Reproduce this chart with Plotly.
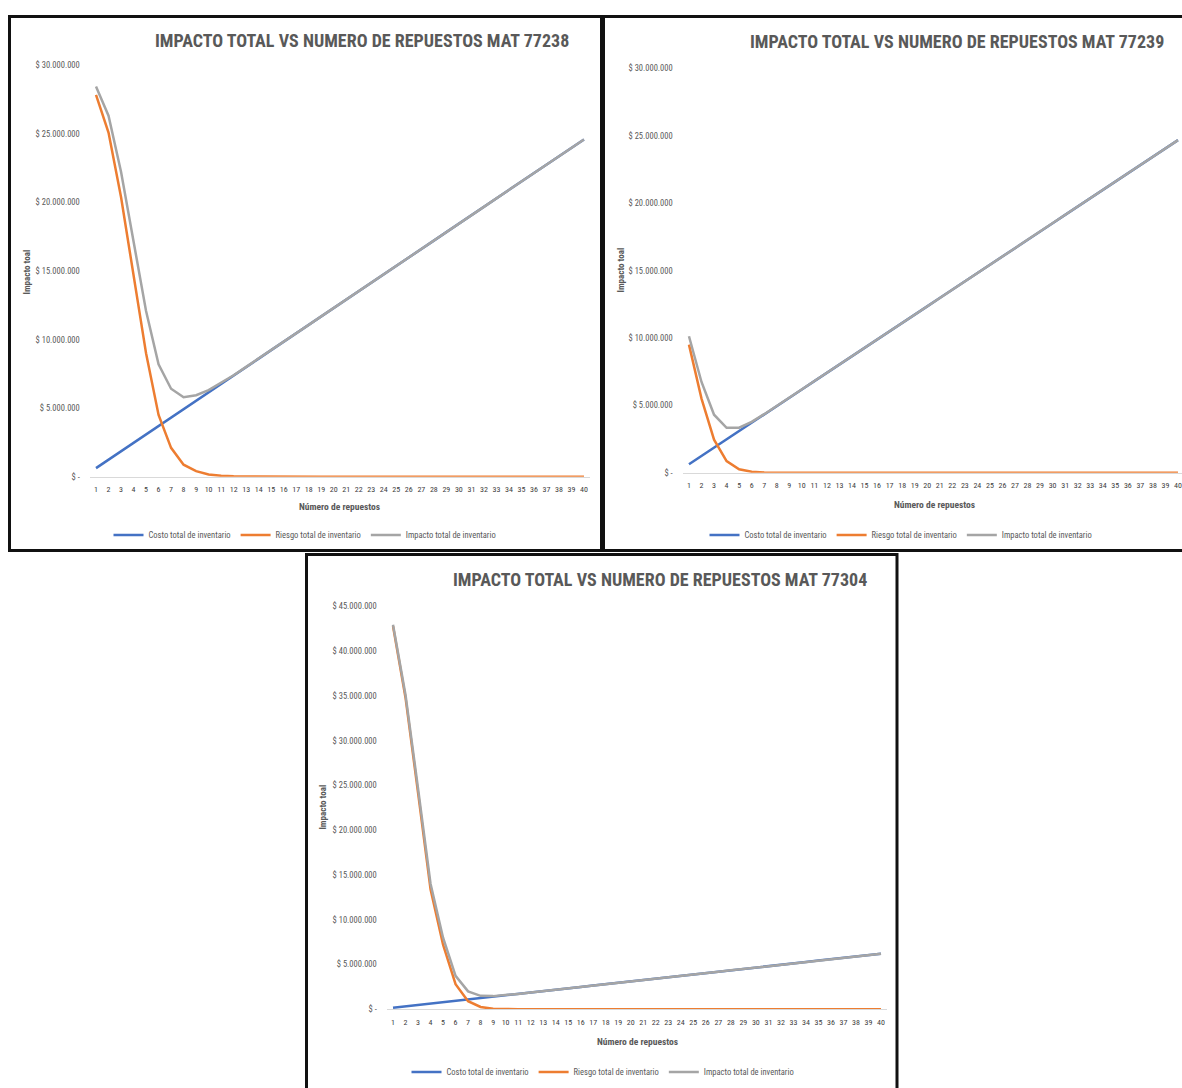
import plotly.graph_objects as go

W, H = 1182, 1088

# ---------------- DATA (values in millions of pesos) ----------------
repuestos = list(range(1, 41))
tick_labels_x = [str(i) for i in repuestos]

series_names = ["Costo total de inventario", "Riesgo total de inventario", "Impacto total de inventario"]
series_colors = ["#4472C4", "#ED7D31", "#A5A5A5"]

# MAT 77238
costo_77238 = [0.62, 1.23, 1.85, 2.46, 3.08, 3.69, 4.31, 4.92, 5.54, 6.15,
               6.77, 7.38, 8.00, 8.61, 9.23, 9.84, 10.46, 11.07, 11.69, 12.30,
               12.92, 13.53, 14.15, 14.76, 15.38, 15.99, 16.61, 17.22, 17.84, 18.45,
               19.07, 19.68, 20.30, 20.91, 21.53, 22.14, 22.76, 23.37, 23.99, 24.60]
riesgo_77238 = [27.85, 25.10, 20.40, 14.60, 9.00, 4.50, 2.10, 0.87, 0.40, 0.16,
                0.06, 0.02, 0.01, 0, 0, 0, 0, 0, 0, 0,
                0, 0, 0, 0, 0, 0, 0, 0, 0, 0,
                0, 0, 0, 0, 0, 0, 0, 0, 0, 0]
impacto_77238 = [28.47, 26.33, 22.25, 17.06, 12.08, 8.19, 6.41, 5.79, 5.94, 6.31,
                 6.83, 7.40, 8.01, 8.61, 9.23, 9.84, 10.46, 11.07, 11.69, 12.30,
                 12.92, 13.53, 14.15, 14.76, 15.38, 15.99, 16.61, 17.22, 17.84, 18.45,
                 19.07, 19.68, 20.30, 20.91, 21.53, 22.14, 22.76, 23.37, 23.99, 24.60]

# MAT 77239
costo_77239 = [0.62, 1.23, 1.85, 2.47, 3.09, 3.70, 4.32, 4.94, 5.55, 6.17,
               6.79, 7.40, 8.02, 8.64, 9.26, 9.87, 10.49, 11.11, 11.72, 12.34,
               12.96, 13.57, 14.19, 14.81, 15.43, 16.04, 16.66, 17.28, 17.89, 18.51,
               19.13, 19.74, 20.36, 20.98, 21.60, 22.21, 22.83, 23.45, 24.06, 24.68]
riesgo_77239 = [9.50, 5.50, 2.45, 0.86, 0.25, 0.07, 0.02, 0.01, 0, 0,
                0, 0, 0, 0, 0, 0, 0, 0, 0, 0,
                0, 0, 0, 0, 0, 0, 0, 0, 0, 0,
                0, 0, 0, 0, 0, 0, 0, 0, 0, 0]
impacto_77239 = [10.12, 6.73, 4.30, 3.33, 3.34, 3.77, 4.34, 4.95, 5.55, 6.17,
                 6.79, 7.40, 8.02, 8.64, 9.26, 9.87, 10.49, 11.11, 11.72, 12.34,
                 12.96, 13.57, 14.19, 14.81, 15.43, 16.04, 16.66, 17.28, 17.89, 18.51,
                 19.13, 19.74, 20.36, 20.98, 21.60, 22.21, 22.83, 23.45, 24.06, 24.68]

# MAT 77304
costo_77304 = [0.16, 0.31, 0.47, 0.62, 0.78, 0.93, 1.09, 1.24, 1.40, 1.55,
               1.71, 1.86, 2.02, 2.17, 2.33, 2.48, 2.64, 2.79, 2.95, 3.10,
               3.26, 3.41, 3.57, 3.72, 3.88, 4.03, 4.19, 4.34, 4.50, 4.65,
               4.81, 4.96, 5.12, 5.27, 5.43, 5.58, 5.74, 5.89, 6.05, 6.20]
riesgo_77304 = [42.80, 34.80, 24.20, 13.40, 7.20, 2.80, 0.90, 0.25, 0.06, 0.01,
                0, 0, 0, 0, 0, 0, 0, 0, 0, 0,
                0, 0, 0, 0, 0, 0, 0, 0, 0, 0,
                0, 0, 0, 0, 0, 0, 0, 0, 0, 0]
impacto_77304 = [42.96, 35.11, 24.67, 14.02, 7.98, 3.73, 1.99, 1.49, 1.46, 1.56,
                 1.71, 1.86, 2.02, 2.17, 2.33, 2.48, 2.64, 2.79, 2.95, 3.10,
                 3.26, 3.41, 3.57, 3.72, 3.88, 4.03, 4.19, 4.34, 4.50, 4.65,
                 4.81, 4.96, 5.12, 5.27, 5.43, 5.58, 5.74, 5.89, 6.05, 6.20]

yticks_30 = [0, 5, 10, 15, 20, 25, 30]
ylabels_30 = ["$ -", "$ 5.000.000", "$ 10.000.000", "$ 15.000.000", "$ 20.000.000",
              "$ 25.000.000", "$ 30.000.000"]
yticks_45 = [0, 5, 10, 15, 20, 25, 30, 35, 40, 45]
ylabels_45 = ["$ -", "$ 5.000.000", "$ 10.000.000", "$ 15.000.000", "$ 20.000.000",
              "$ 25.000.000", "$ 30.000.000", "$ 35.000.000", "$ 40.000.000", "$ 45.000.000"]

titles = ["IMPACTO TOTAL VS NUMERO DE REPUESTOS MAT 77238",
          "IMPACTO TOTAL VS NUMERO DE REPUESTOS MAT 77239",
          "IMPACTO TOTAL VS NUMERO DE REPUESTOS MAT 77304"]
x_title = "Número de repuestos"
y_title = "Impacto toal"

# ---------------- LAYOUT HELPERS ----------------
FONT = "Liberation Sans Narrow, Roboto Condensed, Arial Narrow, Liberation Sans, sans-serif"
TXT = "#595959"

def px(x):
    return x / W

def py(y):
    return 1 - y / H

charts = [
    dict(data=(costo_77238, riesgo_77238, impacto_77238), xl=89.75, xr=590.25, xmax=40.5,
         y0=476, ytop=61, ymax=30, yt=yticks_30, ytl=ylabels_30, title=titles[0],
         title_xy=(362, 39), xt_xy=(339, 506), yt_xy=(27, 270), leg_xy=(305, 535)),
    dict(data=(costo_77239, riesgo_77239, impacto_77239), xl=682.7, xr=1182, xmax=40.32,
         y0=472, ytop=64, ymax=30, yt=yticks_30, ytl=ylabels_30, title=titles[1],
         title_xy=(957, 40), xt_xy=(934, 504), yt_xy=(621, 268), leg_xy=(901, 535)),
    dict(data=(costo_77304, riesgo_77304, impacto_77304), xl=386.75, xr=887.25, xmax=40.5,
         y0=1013.5, ytop=607, ymax=45, yt=yticks_45, ytl=ylabels_45, title=titles[2],
         title_xy=(660, 583), xt_xy=(637, 1046), yt_xy=(323, 810), leg_xy=(603, 1077)),
]

fig = go.Figure()
annotations = []
layout_axes = {}

for i, c in enumerate(charts):
    k = "" if i == 0 else str(i + 1)
    leg = "legend" if i == 0 else f"legend{i + 1}"
    for s, (name, color) in enumerate(zip(series_names, series_colors)):
        fig.add_trace(go.Scatter(
            x=repuestos, y=c["data"][s], mode="lines", name=name,
            line=dict(color=color, width=2.5),
            xaxis="x" + k, yaxis="y" + k, legend=leg, showlegend=True,
        ))
    layout_axes["xaxis" + k] = dict(
        domain=[px(c["xl"]), px(c["xr"])], range=[0.5, c["xmax"]],
        anchor="y" + k, tickmode="array", tickvals=repuestos, ticktext=tick_labels_x,
        showgrid=False, zeroline=False, showline=True, linecolor="#d9d9d9", linewidth=1,
        ticks="", ticklabelstandoff=5,
        tickfont=dict(family=FONT, size=8, color="#404040"),
    )
    layout_axes["yaxis" + k] = dict(
        domain=[py(c["y0"]), py(c["ytop"])], range=[0, c["ymax"]],
        anchor="x" + k, tickmode="array", tickvals=c["yt"], ticktext=c["ytl"],
        showgrid=False, zeroline=False, showline=False, ticks="", ticklabelstandoff=9,
        tickfont=dict(family=FONT, size=8.5, color=TXT),
    )
    layout_axes[leg] = dict(
        orientation="h", x=px(c["leg_xy"][0]), y=py(c["leg_xy"][1]),
        xanchor="center", yanchor="middle", bgcolor="rgba(0,0,0,0)",
        font=dict(family=FONT, size=8.5, color=TXT), itemwidth=30, tracegroupgap=0,
    )
    annotations.append(dict(
        text=f"<b>{c['title']}</b>", x=px(c["title_xy"][0]), y=py(c["title_xy"][1] - 3),
        xref="paper", yref="paper", showarrow=False, xanchor="center", yanchor="middle",
        font=dict(family=FONT, size=18, color=TXT),
    ))
    annotations.append(dict(
        text=f"<b>{x_title}</b>", x=px(c["xt_xy"][0]), y=py(c["xt_xy"][1]),
        xref="paper", yref="paper", showarrow=False, xanchor="center", yanchor="middle",
        font=dict(family=FONT, size=9.5, color=TXT),
    ))
    annotations.append(dict(
        text=f"<b>{y_title}</b>", x=px(c["yt_xy"][0]), y=py(c["yt_xy"][1]),
        xref="paper", yref="paper", showarrow=False, xanchor="center", yanchor="middle",
        textangle=-90, font=dict(family=FONT, size=9, color=TXT),
    ))

frames = [(9.5, 11.5, 601.5, 550.5), (603.5, 11.5, 1200, 550.5), (306.5, 554.5, 897, 1100)]
shapes = [dict(type="rect", xref="paper", yref="paper",
               x0=px(a), x1=px(b), y0=py(d), y1=py(cc),
               line=dict(color="#111111", width=3), fillcolor="rgba(0,0,0,0)", layer="above")
          for a, cc, b, d in frames]

fig.update_layout(
    width=W, height=H, margin=dict(l=0, r=0, t=0, b=0),
    paper_bgcolor="white", plot_bgcolor="white",
    annotations=annotations, shapes=shapes, **layout_axes,
)

fig.write_html("out.html", config={"displayModeBar": False},
               post_script="document.body.style.margin='0';document.body.style.overflow='hidden';")
